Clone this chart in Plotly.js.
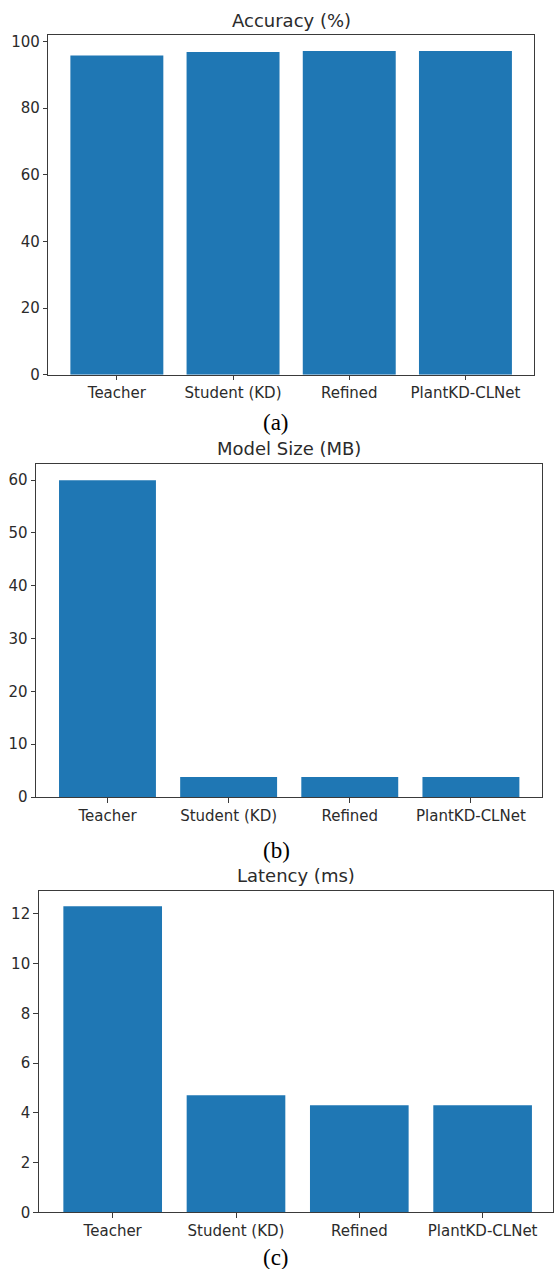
<!DOCTYPE html>
<html>
<head>
<meta charset="utf-8">
<script src="https://cdn.plot.ly/plotly-3.0.1.min.js"></script>
<style>
  html, body { margin: 0; padding: 0; background: #fff; }
  #chart { width: 554px; height: 1269px; }
</style>
</head>
<body>
<div id="chart"></div>
<script>
// Model comparison data
const models = ["Teacher", "Student (KD)", "Refined", "PlantKD-CLNet"];
const accuracy = [95.8, 96.9, 97.2, 97.2];     // %
const modelSize = [60.0, 3.8, 3.8, 3.8];       // MB
const latency = [12.3, 4.7, 4.3, 4.3];         // ms

const panelTitles = ["Accuracy (%)", "Model Size (MB)", "Latency (ms)"];
const captions = ["(a)", "(b)", "(c)"];

const W = 554, H = 1269;
const barColor = "#1f77b4";
const inkColor = "#2b2b2b";
const lineColor = "#3a3a3a";
const sansFont = "DejaVu Sans, sans-serif";
const serifFont = "Liberation Serif, Times New Roman, serif";

// Plot boxes in pixels: left, right, top, bottom
const boxes = [
  { l: 48.3, r: 534.0, t: 34.7, b: 374.7, xr: [-0.59, 3.59] },
  { l: 36.0, r: 542.4, t: 464.3, b: 797.0, xr: [-0.59, 3.59] },
  { l: 38.7, r: 553.4, t: 891.0, b: 1212.3, xr: [-0.60, 3.574] }
];
const series = [accuracy, modelSize, latency];
const dticks = [20, 10, 2];
const titleY = [20, 449, 875];
const captionY = [422, 850, 1257.5];

const traces = [];
const layout = {
  width: W, height: H,
  margin: { l: 0, r: 0, t: 0, b: 0 },
  paper_bgcolor: "#fff",
  plot_bgcolor: "#fff",
  showlegend: false,
  bargap: 0.2,
  annotations: []
};

series.forEach((vals, i) => {
  const n = i === 0 ? "" : String(i + 1);
  const bx = boxes[i];
  traces.push({
    type: "bar",
    x: models,
    y: vals,
    xaxis: "x" + n,
    yaxis: "y" + n,
    marker: { color: barColor, line: { width: 0 } },
    hoverinfo: "skip"
  });
  const ymax = Math.max(...vals) * 1.05;
  layout["xaxis" + n] = {
    domain: [bx.l / W, bx.r / W],
    anchor: "y" + n,
    type: "category",
    range: bx.xr,
    showgrid: false, zeroline: false,
    showline: true, mirror: true, linecolor: lineColor, linewidth: 1,
    ticks: "outside", ticklen: 4.5, tickwidth: 1, tickcolor: lineColor,
    tickfont: { family: sansFont, size: 15, color: inkColor },
    fixedrange: true
  };
  layout["yaxis" + n] = {
    domain: [1 - bx.b / H, 1 - bx.t / H],
    anchor: "x" + n,
    range: [0, ymax],
    dtick: dticks[i], tick0: 0,
    showgrid: false, zeroline: false,
    showline: true, mirror: true, linecolor: lineColor, linewidth: 1,
    ticks: "outside", ticklen: 4.5, tickwidth: 1, tickcolor: lineColor,
    tickfont: { family: sansFont, size: 15, color: inkColor },
    fixedrange: true
  };
  layout.annotations.push({
    text: panelTitles[i],
    xref: "paper", yref: "paper",
    x: (bx.l + bx.r) / 2 / W, y: 1 - titleY[i] / H,
    xanchor: "center", yanchor: "middle",
    showarrow: false,
    font: { family: sansFont, size: 18, color: inkColor }
  });
  layout.annotations.push({
    text: captions[i],
    xref: "paper", yref: "paper",
    x: 276 / W, y: 1 - captionY[i] / H,
    xanchor: "center", yanchor: "middle",
    showarrow: false,
    font: { family: serifFont, size: 23, color: "#000" }
  });
});

Plotly.newPlot("chart", traces, layout, { staticPlot: true, displayModeBar: false });
</script>
</body>
</html>
